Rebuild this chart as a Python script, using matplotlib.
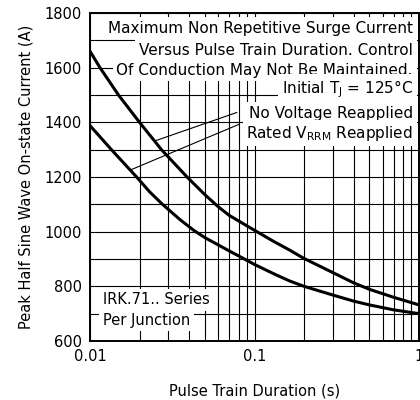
import numpy as np
import matplotlib
matplotlib.use('Agg')
import matplotlib.pyplot as plt
from matplotlib.ticker import FixedLocator, MultipleLocator, LogLocator, NullFormatter

# curve values
t_no_volt = [0.01, 0.0115, 0.0149, 0.02, 0.0272, 0.0389, 0.05, 0.06, 0.07, 0.1,
             0.132, 0.163, 0.2, 0.3, 0.4, 0.5, 0.7, 1.0]
i_no_volt = [1660, 1600, 1500, 1400, 1300, 1200, 1135, 1092, 1060, 1005,
             963, 933, 902, 850, 813, 789, 760, 732]

t_rated = [0.01, 0.0135, 0.0192, 0.0231, 0.0276, 0.0351, 0.0427, 0.05, 0.06, 0.07,
           0.085, 0.1, 0.132, 0.163, 0.2, 0.3, 0.4, 0.5, 0.7, 1.0]
i_rated = [1388, 1300, 1200, 1145, 1100, 1045, 1005, 978, 952, 930,
           903, 880, 845, 820, 800, 768, 746, 732, 714, 700]

# leader lines (curve point -> label)
lead_no_volt_x = [0.0248, 0.078]
lead_no_volt_y = [1332, 1436]
lead_rated_x = [0.0175, 0.080]
lead_rated_y = [1225, 1392]

x_ticks = [0.01, 0.1, 1]
x_tick_labels = ['0.01', '0.1', '1']
y_ticks = [600, 800, 1000, 1200, 1400, 1600, 1800]

fig = plt.figure(figsize=(4.2, 4.0), dpi=100)
ax = fig.add_axes([90 / 420, 1 - 341 / 400, 329 / 420, 328 / 400])

ax.set_xscale('log')
ax.set_xlim(0.01, 1)
ax.set_ylim(600, 1800)

ax.xaxis.set_major_locator(FixedLocator(x_ticks))
ax.set_xticklabels(x_tick_labels)
ax.xaxis.set_minor_locator(LogLocator(base=10, subs=np.arange(2, 10)))
ax.xaxis.set_minor_formatter(NullFormatter())
ax.yaxis.set_major_locator(FixedLocator(y_ticks))
ax.yaxis.set_minor_locator(MultipleLocator(100))

ax.grid(True, which='both', color='black', linewidth=0.8, zorder=1)
ax.set_axisbelow(True)
ax.tick_params(which='both', length=0, labelsize=10.5, pad=6)
for s in ax.spines.values():
    s.set_linewidth(1.4)

ax.plot(t_no_volt, i_no_volt, color='black', linewidth=2.2, zorder=5)
ax.plot(t_rated, i_rated, color='black', linewidth=2.2, zorder=5)
ax.plot(lead_no_volt_x, lead_no_volt_y, color='black', linewidth=0.8, zorder=5)
ax.plot(lead_rated_x, lead_rated_y, color='black', linewidth=0.8, zorder=5)

box = dict(facecolor='white', edgecolor='none', boxstyle='square,pad=0.25')
fs = 11
rx = (413 - 90) / 329


def ypx(py):
    return 1 - (py - 13) / 328


ax.text(rx, ypx(28), 'Maximum Non Repetitive Surge Current', transform=ax.transAxes,
        ha='right', va='center', fontsize=fs, bbox=box, zorder=4)
ax.text(rx, ypx(50), 'Versus Pulse Train Duration. Control', transform=ax.transAxes,
        ha='right', va='center', fontsize=fs, bbox=box, zorder=4)
ax.text(rx, ypx(70), 'Of Conduction May Not Be Maintained.', transform=ax.transAxes,
        ha='right', va='center', fontsize=fs, bbox=box, zorder=4)
ax.text(rx, ypx(89), 'Initial T$_\\mathregular{J}$ = 125°C', transform=ax.transAxes,
        ha='right', va='center', fontsize=fs, bbox=box, zorder=4)
ax.text(rx, ypx(113), 'No Voltage Reapplied', transform=ax.transAxes,
        ha='right', va='center', fontsize=fs, bbox=box, zorder=4)
ax.text(rx, ypx(133), 'Rated V$_\\mathregular{RRM}$ Reapplied', transform=ax.transAxes,
        ha='right', va='center', fontsize=fs, bbox=box, zorder=4)

ax.text((103 - 90) / 329, ypx(300), 'IRK.71.. Series', transform=ax.transAxes,
        ha='left', va='center', fontsize=10.5, bbox=box, zorder=4)
ax.text((103 - 90) / 329, ypx(320), 'Per Junction', transform=ax.transAxes,
        ha='left', va='center', fontsize=10.5, bbox=box, zorder=4)

ax.set_xlabel('Pulse Train Duration (s)', fontsize=10.5, labelpad=14)
ax.set_ylabel('Peak Half Sine Wave On-state Current (A)', fontsize=10.5, labelpad=8)

fig.savefig('out.png', dpi=100)
